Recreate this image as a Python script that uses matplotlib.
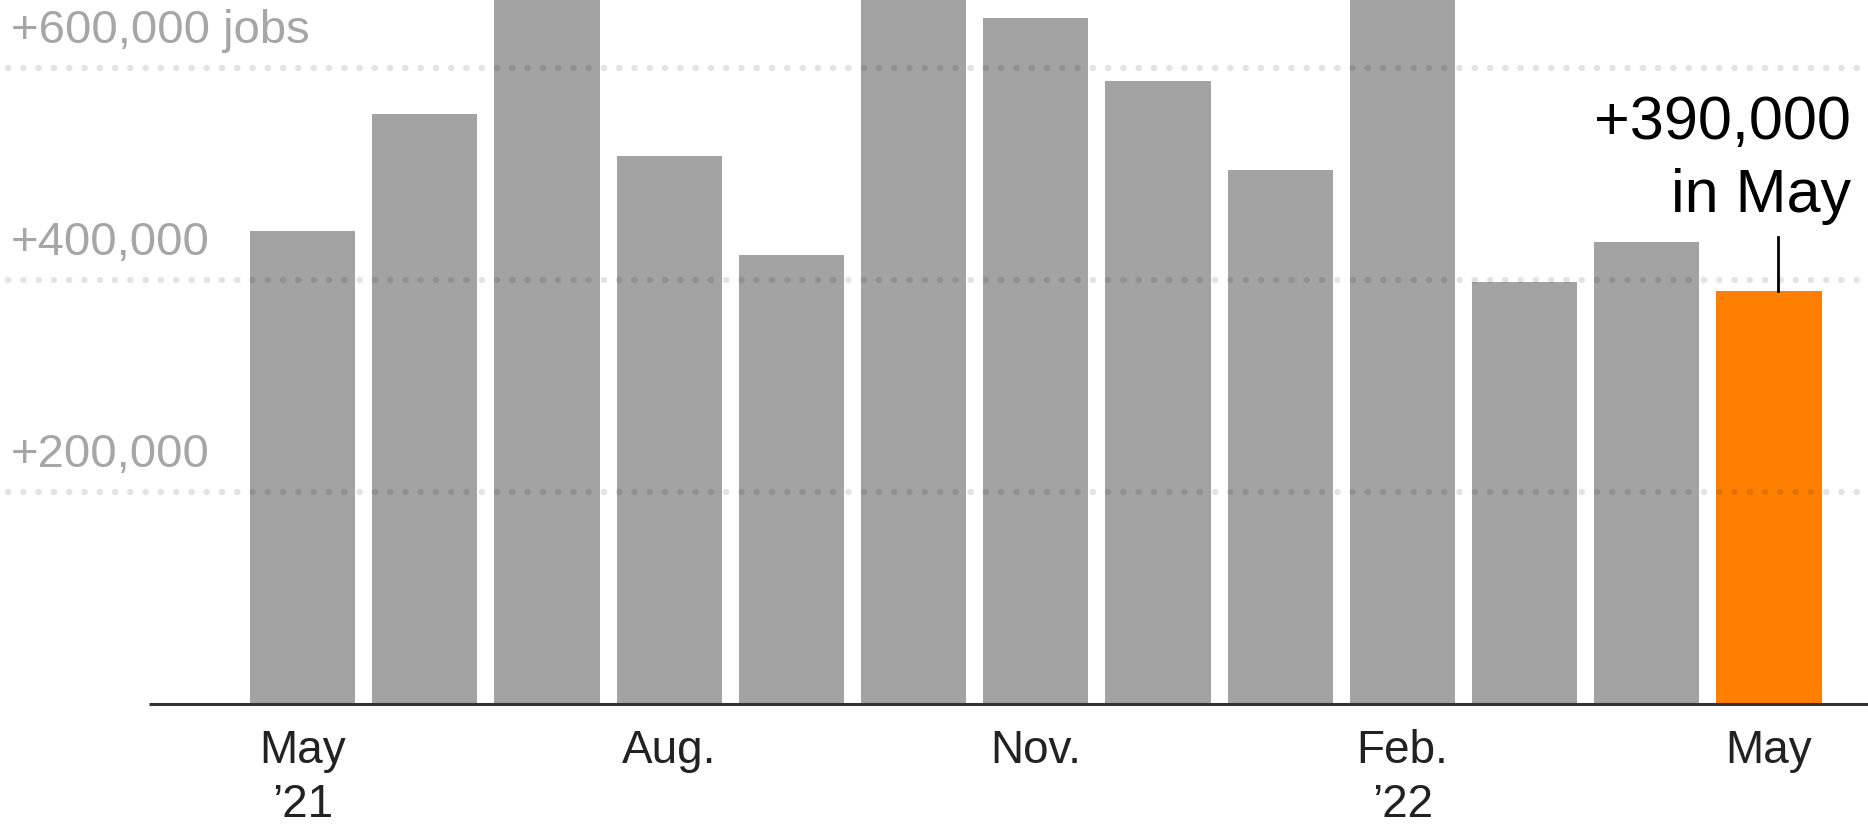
import numpy as np
import matplotlib
matplotlib.use('Agg')
from matplotlib import pyplot as plt

plt.rcParams['font.family'] = ['Liberation Sans', 'DejaVu Sans']
plt.rcParams['lines.scale_dashes'] = False

months = ['May 21', 'Jun 21', 'Jul 21', 'Aug 21', 'Sep 21', 'Oct 21', 'Nov 21',
          'Dec 21', 'Jan 22', 'Feb 22', 'Mar 22', 'Apr 22', 'May 22']
jobs = [446000, 557000, 689000, 517000, 424000, 677000, 647000,
        588000, 504000, 714000, 398000, 436000, 390000]
tick_pos = [0, 3, 6, 9, 12]
tick_labels = ['May\n\u201921', 'Aug.', 'Nov.', 'Feb.\n\u201922', 'May']
grid_vals = [200000, 400000, 600000]
grid_labels = ['+200,000', '+400,000', '+600,000 jobs']
note = ['+390,000', 'in May']

GRAY = '#a3a3a3'
ORANGE = '#ff7f00'

fig = plt.figure(figsize=(18.68, 8.32), dpi=100)
ax = fig.add_axes([0, 0, 1, 1])
ax.set_xlim(-2.476, 12.81)
ax.set_ylim(-120755, 664150)
ax.axis('off')

x = np.arange(len(months))
colors = [GRAY] * (len(months) - 1) + [ORANGE]
ax.bar(x, jobs, width=0.86, color=colors, zorder=2)

# dotted gridlines drawn over bars
for v, lab in zip(grid_vals, grid_labels):
    ax.plot([-2.41, 12.81], [v, v], color='black', alpha=0.11, lw=4.6,
            linestyle=(0, (0.2, 10.8)), dash_capstyle='round', zorder=3)
    ax.annotate(lab, xy=(-2.39, v), xytext=(0, 18), textcoords='offset points',
                ha='left', va='baseline', fontsize=34, color='#a6a6a6')

# baseline
ax.plot([-1.257, 12.81], [0, 0], color='#333333', lw=2.2, zorder=4,
        solid_capstyle='butt')

for p, lab in zip(tick_pos, tick_labels):
    ax.annotate(lab, xy=(p, 0), xytext=(0, -18), textcoords='offset points',
                ha='center', va='top', fontsize=33, color='#222222',
                linespacing=1.3)

# annotation for latest month
last = len(months) - 1
ax.plot([last + 0.07, last + 0.07], [jobs[last], 441000], color='black', lw=2.0, zorder=4)
ax.text(12.67, 533000, note[0], ha='right', va='baseline', fontsize=44, color='black')
ax.text(12.67, 464000, note[1], ha='right', va='baseline', fontsize=44, color='black')

fig.savefig('out.png', dpi=100)
